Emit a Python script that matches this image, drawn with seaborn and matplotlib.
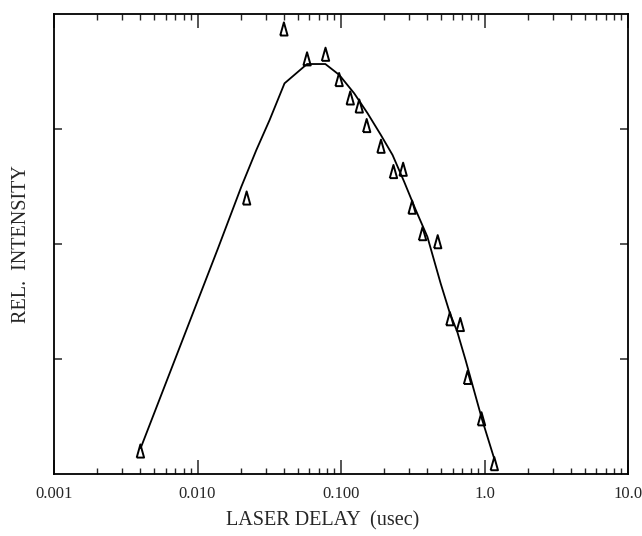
import numpy as np
import pandas as pd
import matplotlib
matplotlib.use("Agg")
import matplotlib.pyplot as plt
from matplotlib.ticker import FixedLocator, LogLocator, NullFormatter
import seaborn as sns

# ---- data ----
delay_pts = [0.0040, 0.022, 0.040, 0.058, 0.078, 0.097, 0.116, 0.134, 0.151, 0.190,
             0.232, 0.271, 0.313, 0.370, 0.472, 0.574, 0.678, 0.762, 0.953, 1.17]
intensity_pts = [0.20, 2.40, 3.87, 3.61, 3.65, 3.43, 3.27, 3.20, 3.03, 2.85,
                 2.63, 2.65, 2.32, 2.09, 2.02, 1.35, 1.30, 0.84, 0.48, 0.09]

delay_fit = [0.00402, 0.0139, 0.0202, 0.0257, 0.0318, 0.0404, 0.0580, 0.0778, 0.0973,
             0.1236, 0.1531, 0.1896, 0.2287, 0.2754, 0.3318, 0.3999, 0.4946, 0.574,
             0.646, 0.738, 0.964, 1.165]
intensity_fit = [0.226, 1.963, 2.498, 2.817, 3.078, 3.397, 3.565, 3.565, 3.470,
                 3.310, 3.137, 2.948, 2.774, 2.542, 2.296, 2.063, 1.658, 1.397,
                 1.237, 0.991, 0.470, 0.139]

x_ticks = [0.001, 0.01, 0.1, 1.0, 10.0]
x_tick_labels = ["0.001", "0.010", "0.100", "1.0", "10.0"]
y_ticks = [1, 2, 3]

pts = pd.DataFrame({"delay": delay_pts, "intensity": intensity_pts})
fit = pd.DataFrame({"delay": delay_fit, "intensity": intensity_fit})

sns.set_style("ticks")
plt.rcParams["font.family"] = ["Liberation Serif", "DejaVu Serif"]

fig = plt.figure(figsize=(6.42, 5.36), dpi=100)
ax = fig.add_axes([54 / 642, 1 - 474 / 536, (628 - 54) / 642, (474 - 14) / 536])

sns.lineplot(data=fit, x="delay", y="intensity", sort=False, estimator=None,
             color="black", linewidth=1.3, ax=ax)

tri = [(-0.28, -0.5), (0.28, -0.5), (0.0, 0.5), (-0.28, -0.5)]
sns.scatterplot(data=pts, x="delay", y="intensity", marker=tri, s=90,
                facecolor="none", edgecolor="black", linewidth=1.4, ax=ax, zorder=3)

ax.set_xscale("log")
ax.set_xlim(0.001, 10.0)
ax.set_ylim(0, 4)

ax.xaxis.set_major_locator(FixedLocator(x_ticks))
ax.set_xticklabels(x_tick_labels)
ax.xaxis.set_minor_locator(LogLocator(base=10, subs=np.arange(2, 10), numticks=20))
ax.xaxis.set_minor_formatter(NullFormatter())
ax.set_yticks(y_ticks)
ax.set_yticklabels([])

ax.tick_params(axis="x", which="major", direction="in", length=10, width=1.1,
               top=True, bottom=True, labelsize=12, pad=9)
ax.tick_params(axis="x", which="minor", direction="in", length=4, width=1.0,
               top=True, bottom=True)
ax.tick_params(axis="y", which="major", direction="in", length=6, width=1.1,
               left=True, right=True)

for s in ax.spines.values():
    s.set_linewidth(1.3)
    s.set_color("black")

ax.set_xlabel("LASER DELAY  (usec)", fontsize=14.5)
ax.xaxis.set_label_coords((323 - 54) / 574, -(521 - 474) / 460)
ax.xaxis.label.set_va("center")
ax.set_ylabel("REL.  INTENSITY", fontsize=14.5)
ax.yaxis.set_label_coords(-(54 - 22) / 574, 0.5)
ax.yaxis.label.set_va("center")

fig.savefig("out.png", dpi=100)
